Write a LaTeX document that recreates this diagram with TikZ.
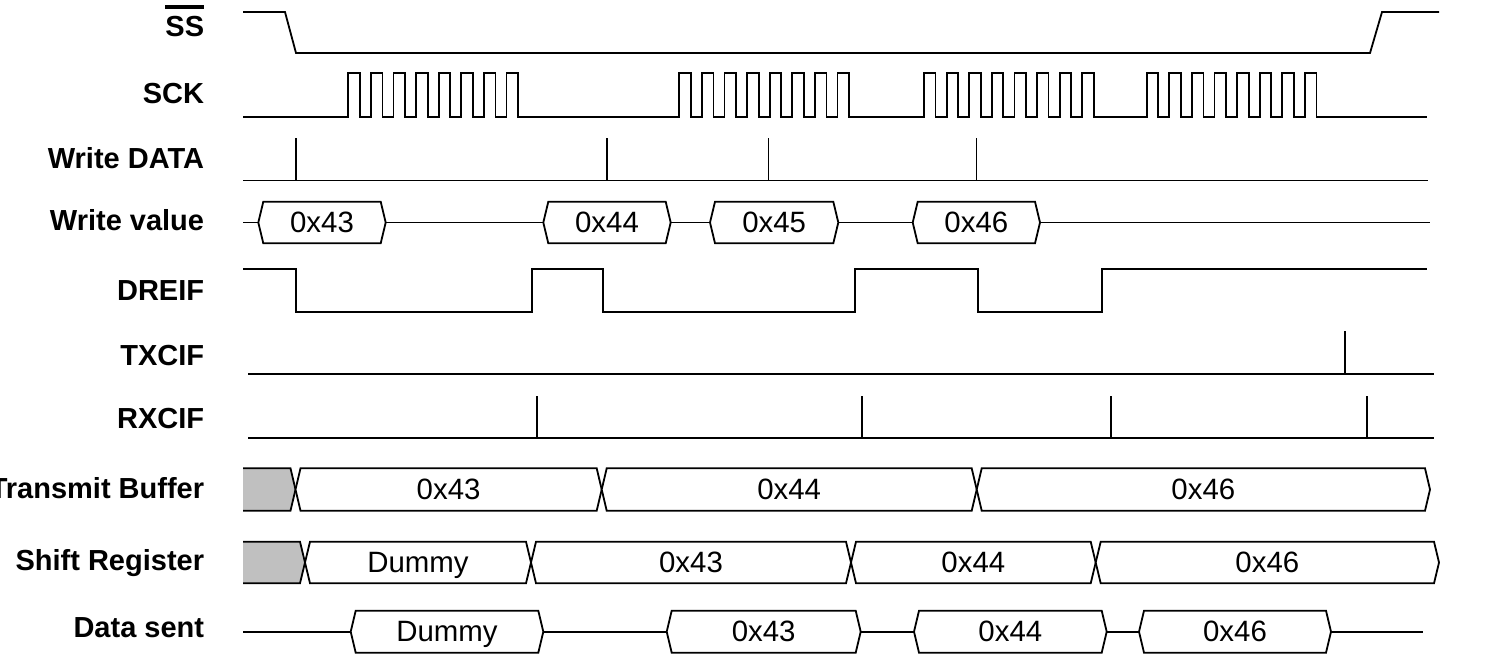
\documentclass[tikz,border=0pt]{standalone}
\usepackage{fontspec}
\setmainfont{Liberation Sans}
\definecolor{buf_gray}{RGB}{192,192,192}
\newcommand{\ssbar}[1]{\vbox{\hrule height 2pt\kern 3.3pt\hbox{#1}}}

\begin{document}
\begin{tikzpicture}[x=0.5pt,y=-0.5pt,line width=0.9pt]
    \tikzstyle{lbl}=[anchor=base east, inner sep=0pt, font=\fontsize{14.5}{16}\selectfont\bfseries]
    \tikzstyle{val}=[anchor=base, inner sep=0pt, font=\fontsize{14.7}{16}\selectfont]
    \tikzstyle{sig}=[draw=black, line join=miter]
    \tikzstyle{bus}=[draw=black, fill=white, line join=miter]

    \useasboundingbox (0,0) rectangle (1492,660);

    % signal names
    \node[lbl] (l_ss)    at (205,36)  {\ssbar{SS}};
    \node[lbl] (l_sck)   at (205,103) {SCK};
    \node[lbl] (l_wdata) at (205,168) {Write DATA};
    \node[lbl] (l_wval)  at (205,230) {Write value};
    \node[lbl] (l_dreif) at (205,300) {DREIF};
    \node[lbl] (l_txcif) at (205,365) {TXCIF};
    \node[lbl] (l_rxcif) at (205,428) {RXCIF};
    \node[lbl] (l_tbuf)  at (205,498) {Transmit Buffer};
    \node[lbl] (l_shift) at (205,570) {Shift Register};
    \node[lbl] (l_sent)  at (205,637) {Data sent};

    % SS and SCK
    \draw[sig] (243,12) -- (285,12) -- (296,53) -- (1370,53) -- (1382,12) -- (1439,12);
    \draw[sig] (243,116.7)
      \foreach \s in {348.3,679.3,924,1146.7} { -- (\s,116.7)
        \foreach \k in {0,...,7} { -- ++(0,-44) -- ++(11.5,0) -- ++(0,44) -- ++(11.1,0) } }
      -- (1427,116.7);

    % Write DATA
    \draw[sig] (243,180.5) -- (1428,180.5);
    \foreach \x in {296,607,768.5,976.5} \draw[sig] (\x,138) -- (\x,180.5);

    % Write value
    \draw[sig] (243,222.5) -- (1430,222.5);
    \foreach \a/\b/\t [count=\i] in {258.3/385.7/0x43,543.3/670.7/0x44,710/838.3/0x45,912.7/1040/0x46} {
      \draw[bus] (\a,222.5) -- (\a+5,201.7) -- (\b-5,201.7) -- (\b,222.5) -- (\b-5,243.3) -- (\a+5,243.3) -- cycle;
      \node[val] (wv\i) at ({(\a+\b)/2},232.5) {\t};
    }

    % DREIF
    \draw[sig] (243,269) -- (296,269) -- (296,312) -- (532,312) -- (532,269) -- (603,269) -- (603,312)
      -- (855,312) -- (855,269) -- (978,269) -- (978,312) -- (1102,312) -- (1102,269) -- (1427,269);

    % TXCIF and RXCIF
    \draw[sig] (248,374) -- (1434,374);
    \draw[sig] (1345,331) -- (1345,374);
    \draw[sig] (248,438) -- (1434,438);
    \foreach \x in {537,862,1111.3,1367} \draw[sig] (\x,396) -- (\x,438);

    % Transmit Buffer
    \filldraw[sig,fill=buf_gray] (243,468.3) -- (290.5,468.3) -- (295.5,489.5) -- (290.5,510.7) -- (243,510.7);
    \foreach \a/\b/\t [count=\i] in {295.5/601.7/0x43,601.7/976.7/0x44,976.7/1430/0x46} {
      \draw[bus] (\a,489.5) -- (\a+5,468.3) -- (\b-5,468.3) -- (\b,489.5) -- (\b-5,510.7) -- (\a+5,510.7) -- cycle;
      \node[val] (tb\i) at ({(\a+\b)/2},499.5) {\t};
    }

    % Shift Register
    \filldraw[sig,fill=buf_gray] (243,541.7) -- (300,541.7) -- (305,562.5) -- (300,583.3) -- (243,583.3);
    \foreach \a/\b/\t [count=\i] in {305/531/Dummy,531/851/0x43,851/1095.7/0x44,1095.7/1439/0x46} {
      \draw[bus] (\a,562.5) -- (\a+5,541.7) -- (\b-5,541.7) -- (\b,562.5) -- (\b-5,583.3) -- (\a+5,583.3) -- cycle;
      \node[val] (sr\i) at ({(\a+\b)/2},572.5) {\t};
    }

    % Data sent
    \draw[sig] (243,631.7) -- (1423,631.7);
    \foreach \a/\b/\t [count=\i] in {350.7/543.3/Dummy,666.7/860.7/0x43,914/1106.7/0x44,1139/1331/0x46} {
      \draw[bus] (\a,631.7) -- (\a+5,610.7) -- (\b-5,610.7) -- (\b,631.7) -- (\b-5,652.7) -- (\a+5,652.7) -- cycle;
      \node[val] (ds\i) at ({(\a+\b)/2},641.7) {\t};
    }
\end{tikzpicture}
\end{document}
